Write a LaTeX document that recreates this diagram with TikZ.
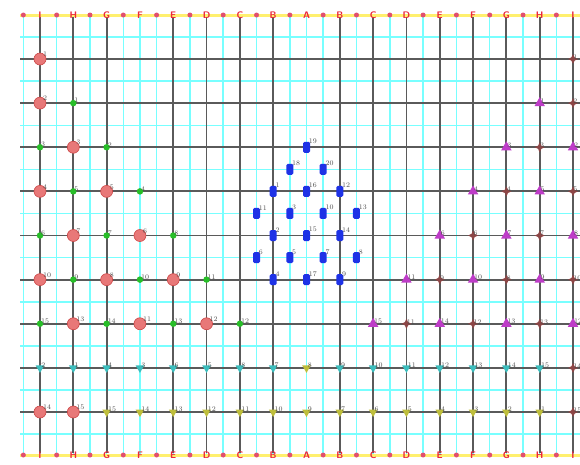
\documentclass[tikz,border=0pt]{standalone}
\usetikzlibrary{shapes.geometric}
\definecolor{gcyan}{RGB}{120,255,255}
\definecolor{gblack}{RGB}{90,90,90}
\definecolor{lblred}{RGB}{235,40,60}
\definecolor{dotred}{RGB}{225,80,110}
\definecolor{band}{RGB}{255,240,110}
\definecolor{cred}{RGB}{232,120,120}
\definecolor{credd}{RGB}{205,70,70}
\definecolor{cgreen}{RGB}{40,190,40}
\definecolor{cblue}{RGB}{30,50,230}
\definecolor{cmag}{RGB}{190,60,200}
\definecolor{cbrown}{RGB}{140,70,70}
\definecolor{cteal}{RGB}{60,190,190}
\definecolor{colive}{RGB}{190,190,60}
\newcommand\pc[4]{%
  \node[#1] (#1-#4) at ({40+33.3125*(#2-1)},{59+44.125*(#3-1)}) {};
  \node[numlbl] (n#1-#4) at ([xshift=-1.5pt,yshift=-2.5pt]#1-#4.north east) {#4};}
\begin{document}
\begin{tikzpicture}[x=1pt,y=-1pt,
  cyanl/.style={gcyan, line width=1.5pt},
  blackl/.style={gblack, line width=1.8pt},
  numlbl/.style={anchor=south west, inner sep=0pt, text=black!70, font=\fontsize{7}{7}\selectfont},
  letter/.style={inner sep=0pt, text=lblred, font=\sffamily\bfseries\fontsize{9.5}{9.5}\selectfont},
  reddot/.style={circle, fill=dotred, minimum size=5pt, inner sep=0pt},
  redp/.style={circle, fill=cred, draw=credd, line width=0.6pt, minimum size=12pt, inner sep=0pt},
  greenp/.style={circle, fill=cgreen, minimum size=6.5pt, inner sep=0pt},
  bluep/.style={rectangle, rounded corners=1.5pt, fill=cblue, minimum width=7pt, minimum height=11pt, inner sep=0pt},
  magp/.style={regular polygon, regular polygon sides=3, fill=cmag, minimum size=12pt, inner sep=0pt},
  brownp/.style={star, star points=4, star point ratio=2.2, fill=cbrown, minimum size=10pt, inner sep=0pt},
  tealp/.style={regular polygon, regular polygon sides=3, shape border rotate=180, fill=cteal, minimum size=10pt, inner sep=0pt},
  olivep/.style={regular polygon, regular polygon sides=3, shape border rotate=180, fill=colive, minimum size=10pt, inner sep=0pt}]
\clip (0,0) rectangle (580,464);
\fill[white] (0,0) rectangle (580,464);
% cyan grid
\foreach \k in {0,...,34} \draw[cyanl] ({23.35+16.656*\k},15) -- ++(0,440);
\foreach \j in {0,...,18} \draw[cyanl] (20,{37+22.0625*\j}) -- (585,{37+22.0625*\j});
% black grid
\foreach \r in {1,...,9} \draw[blackl] (20,{59+44.125*(\r-1)}) -- (585,{59+44.125*(\r-1)});
\foreach \c in {1,2,3,5,6,7,8,10,11,12,13,14,15,16,17} \draw[blackl] ({40+33.3125*(\c-1)},17) -- ({40+33.3125*(\c-1)},453);
% label bands
\fill[band] (20,13.5) rectangle (585,17);
\fill[band] (20,453.5) rectangle (585,457);
\foreach \k in {0,...,17} {
  \node[reddot] (td\k) at ({23.35+33.3125*\k},15) {};
  \node[reddot] (bd\k) at ({23.35+33.3125*\k},455) {};
}
\foreach \L [count=\i] in {I,H,G,F,E,D,C,B,A,B,C,D,E,F,G,H,I} {
  \node[letter] (t\i) at ({40+33.3125*(\i-1)},15) {\L};
  \node[letter] (b\i) at ({40+33.3125*(\i-1)},455) {\L};
}
% pieces
\foreach \c/\r/\n in {1/1/1,1/2/2,2/3/3,1/4/4,3/4/5,2/5/7,4/5/6,1/6/10,3/6/8,5/6/9,2/7/13,4/7/11,6/7/12,1/9/14,2/9/15}
  {\pc{redp}{\c}{\r}{\n}}
\foreach \c/\r/\n in {2/2/1,1/3/3,3/3/2,2/4/5,4/4/4,1/5/6,3/5/7,5/5/8,2/6/9,4/6/10,6/6/11,1/7/15,3/7/14,5/7/13,7/7/12}
  {\pc{greenp}{\c}{\r}{\n}}
\foreach \c/\r/\n in {16/2/1,15/3/3,17/3/2,14/4/4,16/4/5,13/5/6,15/5/7,17/5/8,12/6/11,14/6/10,16/6/9,11/7/15,13/7/14,15/7/13,17/7/12}
  {\pc{magp}{\c}{\r}{\n}}
\foreach \c/\r/\n in {17/1/1,17/2/2,16/3/3,15/4/4,17/4/5,14/5/6,16/5/7,13/6/9,15/6/8,17/6/10,12/7/11,14/7/12,16/7/13,17/8/14,17/9/15}
  {\pc{brownp}{\c}{\r}{\n}}
\foreach \c/\r/\n in {1/8/2,2/8/1,3/8/4,4/8/3,5/8/6,6/8/5,7/8/8,8/8/7,10/8/9,11/8/10,12/8/11,13/8/12,14/8/13,15/8/14,16/8/15}
  {\pc{tealp}{\c}{\r}{\n}}
\foreach \c/\r/\n in {9/8/8,3/9/15,4/9/14,5/9/13,6/9/12,7/9/11,8/9/10,9/9/9,10/9/7,11/9/6,12/9/5,13/9/4,14/9/3,15/9/2,16/9/1}
  {\pc{olivep}{\c}{\r}{\n}}
\foreach \c/\r/\n in {9/3/19,8.5/3.5/18,9.5/3.5/20,8/4/1,9/4/16,10/4/12,7.5/4.5/11,8.5/4.5/3,9.5/4.5/10,10.5/4.5/13,8/5/2,9/5/15,10/5/14,7.5/5.5/6,8.5/5.5/5,9.5/5.5/7,10.5/5.5/8,8/6/4,9/6/17,10/6/9}
  {\pc{bluep}{\c}{\r}{\n}}
\end{tikzpicture}
\end{document}
